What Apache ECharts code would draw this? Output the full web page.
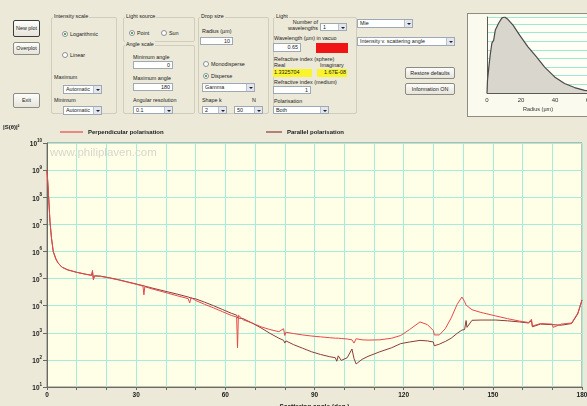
<!DOCTYPE html>
<html>
<head>
<meta charset="utf-8">
<script src="https://cdn.jsdelivr.net/npm/echarts@6/dist/echarts.min.js"></script>
<style>
  html, body { margin: 0; padding: 0; background: #ECE9D8; width: 587px; height: 406px; overflow: hidden; font-family: "Liberation Sans", Arial, sans-serif; }
  #ui, #chart { position: absolute; left: 0; top: 0; width: 587px; height: 406px; }
  .c { position: absolute; box-sizing: border-box; font-size: 5.4px; color: #222; white-space: nowrap; line-height: 7px; }
  .grp { border: 1px solid #CFCDBE; border-radius: 2px; }
  .ttl { background: #ECE9D8; padding: 0 1px; }
  .btn { background: linear-gradient(#FDFDFB, #E6E4DA); border: 1px solid #8C8C84; border-radius: 2px; text-align: center; }
  .inp { background: #fff; border: 1px solid #9DA9B5; text-align: right; padding-right: 2px; }
  .sel { background: #fff; border: 1px solid #9DA9B5; padding-left: 2px; }
  .arr { position: absolute; right: 0; top: 0; bottom: 0; width: 7px; background: #E3E6EE; border-left: 1px solid #B8C0CC; }
  .arr:after { content: ""; position: absolute; left: 1.5px; top: 45%; border-left: 2px solid transparent; border-right: 2px solid transparent; border-top: 2px solid #222; }
  .rad { width: 6px; height: 6px; border-radius: 50%; border: 1px solid #8A8F98; background: #fff; }
  .rad.on:after { content: ""; position: absolute; left: 1px; top: 1px; width: 2px; height: 2px; border-radius: 50%; background: #2A8A2A; }
  .box { background: #FBFAEE; border: 1px solid #8E8C80; }
</style>
</head>
<body>
<div id="ui"></div>
<div id="chart"></div>
<script>
// scattering angle (deg) and log10 of |S|^2 for both polarisations
const angle = [0, 0.4, 1.0, 1.5, 2.1, 3.0, 3.7, 5, 7, 10, 13, 15, 15.3, 15.6, 16, 18, 21, 24, 27, 30,
  32.3, 32.6, 32.9, 35, 38, 41, 44, 47.5, 48, 48.5, 50, 53, 56, 59, 62, 63.8, 64.1, 64.4, 66, 69,
  72, 75, 78, 79.6, 80, 80.4, 83, 86, 89, 92, 95, 97, 97.5, 98, 99, 101, 102.6, 103.3, 104, 106,
  108, 112, 116, 119, 122, 125.5, 128, 130, 130.3, 132, 134, 136, 138, 139.6, 140.5, 141, 141.3, 143, 146, 151,
  155, 159, 162, 163, 163.3, 166, 170, 170.3, 173, 176.5, 178.6, 180];
const perpExp = [9.0, 8.3, 7.1, 6.5, 6.0, 5.72, 5.58, 5.42, 5.32, 5.23, 5.16, 5.12, 5.3, 4.95, 5.1, 5.08, 5.02, 4.95, 4.87, 4.79,
  4.72, 4.4, 4.7, 4.63, 4.54, 4.45, 4.36, 4.26, 4.1, 4.3, 4.19, 4.05, 3.92, 3.78, 3.64, 3.58, 2.45, 3.65, 3.48, 3.36,
  3.22, 3.12, 3.04, 3.15, 2.9, 3.02, 2.97, 2.92, 2.88, 2.85, 2.82, 2.8, 2.78, 2.8, 2.79, 2.77, 2.74, 2.62, 2.78, 2.74,
  2.73, 2.74, 2.8, 2.9, 3.12, 3.4, 3.3, 3.08, 2.92, 2.92, 3.15, 3.55, 4.05, 4.32, 4.15, 4.02, 3.98, 3.85, 3.75, 3.62,
  3.52, 3.43, 3.38, 3.5, 3.25, 3.34, 3.32, 3.2, 3.32, 3.36, 3.73, 4.21];
const paraExp = [9.0, 8.3, 7.1, 6.5, 6.0, 5.72, 5.58, 5.42, 5.32, 5.23, 5.16, 5.12, 5.25, 5.0, 5.1, 5.09, 5.03, 4.96, 4.88, 4.8,
  4.74, 4.7, 4.72, 4.66, 4.58, 4.5, 4.42, 4.32, 4.36, 4.28, 4.25, 4.13, 4.0, 3.86, 3.72, 3.65, 3.55, 3.62, 3.52, 3.36,
  3.18, 2.98, 2.8, 2.72, 2.62, 2.7, 2.56, 2.43, 2.3, 2.2, 2.12, 2.08, 1.95, 2.15, 1.98, 2.08, 2.4, 2.05, 1.85, 2.02,
  2.13, 2.3, 2.45, 2.6, 2.66, 2.72, 2.7, 2.66, 2.52, 2.58, 2.68, 2.8, 2.98, 3.1, 3.12, 3.45, 3.2, 3.46, 3.47, 3.47,
  3.44, 3.4, 3.36, 3.45, 3.22, 3.32, 3.3, 3.25, 3.28, 3.34, 3.7, 4.21];
const xLabels = [0, 30, 60, 90, 120, 150, 180];

// drop size distribution (inset)
const radius = [0, 0.3, 1.2, 2, 2.9, 3.9, 4.9, 6.9, 8.8, 10.4, 12.4, 15.3, 19.2, 24.1, 29, 33.9, 39.8, 45.6, 51.5, 57.4, 62];
const density = [0, 1.5, 3.2, 4.6, 5.8, 6.1, 7.3, 8.1, 8.7, 8.8, 8.5, 7.85, 6.7, 5.35, 4.2, 3.0, 1.86, 1.1, 0.63, 0.31, 0.2];
const radiusLabels = [0, 20, 40, 60];

// ---- form controls ----
const ui = document.getElementById('ui');
function el(cls, x, y, w, h, text, extra) {
  const d = document.createElement('div');
  d.className = 'c ' + cls;
  d.style.left = x + 'px';
  d.style.top = y + 'px';
  if (w) d.style.width = w + 'px';
  if (h) { d.style.height = h + 'px'; d.style.lineHeight = (h - 2) + 'px'; }
  if (text) d.textContent = text;
  if (extra) Object.assign(d.style, extra);
  ui.appendChild(d);
  return d;
}
function group(x, y, w, h, title) {
  el('grp', x, y, w, h);
  el('ttl', x + 2, y - 4, 0, 0, title);
}
function select(x, y, w, h, text) {
  const s = el('sel', x, y, w, h, text);
  const a = document.createElement('span');
  a.className = 'arr';
  s.appendChild(a);
}
function radio(x, y, on, text) {
  el('rad' + (on ? ' on' : ''), x, y);
  el('', x + 8, y - 0.5, 0, 0, text);
}

el('btn', 13, 20, 27, 17, 'New plot', { border: '1px solid #3C3C38' });
el('btn', 13, 42, 27, 13, 'Overplot');
el('btn', 13, 93, 27, 15, 'Exit');

group(51, 17, 66, 97, 'Intensity scale');
radio(62, 31, true, 'Logarithmic');
radio(62, 52, false, 'Linear');
el('', 54, 74, 0, 0, 'Maximum');
select(63, 85, 39, 9, 'Automatic');
el('', 54, 97, 0, 0, 'Minimum');
select(63, 106, 39, 9, 'Automatic');

group(123, 17, 72, 25, 'Light source');
radio(129, 30, true, 'Point');
radio(161, 30, false, 'Sun');

group(123, 45, 72, 69, 'Angle scale');
el('', 133, 54, 0, 0, 'Minimum angle');
el('inp', 133, 61, 40, 8, '0');
el('', 133, 75, 0, 0, 'Maximum angle');
el('inp', 133, 83, 40, 8, '180');
el('', 133, 97, 0, 0, 'Angular resolution');
select(133, 106, 40, 8, '0.1');

group(198, 17, 71, 97, 'Drop size');
el('', 202, 28, 0, 0, 'Radius (µm)');
el('inp', 200, 37, 33, 8, '10');
radio(203, 61, false, 'Monodisperse');
radio(203, 73, true, 'Disperse');
select(202, 83, 53, 9, 'Gamma');
el('', 202, 97, 0, 0, 'Shape k');
el('', 252, 97, 0, 0, 'N');
select(202, 106, 25, 8, '2');
select(234, 106, 29, 8, '50');

group(273, 17, 84, 97, 'Light');
el('', 276, 19, 42, 0, 'Number of', { textAlign: 'right' });
el('', 276, 25, 42, 0, 'wavelengths', { textAlign: 'right' });
select(320, 23, 27, 8, '1');
el('', 274, 35, 0, 0, 'Wavelength (µm) in vacuo');
el('inp', 273, 43, 28, 9, '0.65');
el('', 316, 43, 32, 10, '', { background: '#F01414' });
el('', 274, 56, 0, 0, 'Refractive index (sphere)');
el('', 274, 62, 0, 0, 'Real');
el('', 320, 62, 0, 0, 'Imaginary');
el('', 273, 69, 39, 8, '1.3325704', { background: '#FAF52A', paddingLeft: '1px' });
el('', 317, 69, 30, 8, '1.67E-08', { background: '#FAF52A', textAlign: 'right', paddingRight: '1px' });
el('', 274, 79, 0, 0, 'Refractive index (medium)');
el('inp', 273, 86, 38, 8, '1');
el('', 274, 98, 0, 0, 'Polarisation');
select(273, 106, 56, 8, 'Both');

select(357, 19, 56, 9, 'Mie');
select(357, 37, 98, 9, 'Intensity v. scattering angle');
el('btn', 405, 67, 50, 12, 'Restore defaults');
el('btn', 405, 83, 50, 12, 'Information ON');
el('box', 467, 13, 130, 104);

// ---- charts ----
var MyChart = echarts.init(document.getElementById('chart'));
var bold = { fontFamily: 'Liberation Sans', fontWeight: 'bold', color: '#1A1A1A' };
var option = {
  animation: false,
  backgroundColor: 'transparent',
  textStyle: { fontFamily: 'Liberation Sans' },
  legend: [
    {
      data: ['Perpendicular polarisation'], left: 60, top: 129, padding: 0,
      icon: 'rect', itemWidth: 23, itemHeight: 1.2,
      textStyle: Object.assign({ fontSize: 6 }, bold)
    },
    {
      data: ['Parallel polarisation'], left: 266, top: 129, padding: 0,
      icon: 'rect', itemWidth: 16, itemHeight: 1.2,
      textStyle: Object.assign({ fontSize: 6 }, bold)
    }
  ],
  graphic: [
    { type: 'text', left: 3, top: 124, style: { text: '|S(θ)|²', fontSize: 6, fill: '#1A1A1A', fontWeight: 'bold', fontFamily: 'Liberation Sans' } },
    { type: 'text', left: 50, top: 147, z: 1, style: { text: 'www.philiplaven.com', fontSize: 11.5, fill: '#D6D6CC', fontFamily: 'Liberation Sans' } }
  ],
  grid: [
    { left: 47, top: 143, width: 535, height: 244, outerBoundsMode: 'none', containLabel: false,
      show: true, backgroundColor: '#FFFFE8', borderColor: '#85857C', borderWidth: 1 },
    { left: 487, top: 17, width: 102, height: 76, outerBoundsMode: 'none', containLabel: false,
      show: true, backgroundColor: '#FFFFF6', borderWidth: 0 }
  ],
  xAxis: [
    {
      type: 'value', min: 0, max: 180, interval: 10,
      axisLine: { lineStyle: { color: '#6A6A64' } },
      axisTick: { length: 3, interval: 0, lineStyle: { color: '#6A6A64' } },
      axisLabel: Object.assign({ fontSize: 6.5, margin: 5, hideOverlap: false, formatter: v => xLabels.includes(v) ? v : '' }, bold),
      splitLine: { interval: 0, lineStyle: { color: '#A6ECDA', width: 1 } },
      name: 'Scattering angle (deg.)', nameLocation: 'middle', nameGap: 15,
      nameTextStyle: Object.assign({ fontSize: 6.5 }, bold)
    },
    {
      gridIndex: 1, type: 'value', min: 0, max: 60, interval: 20,
      axisLine: { lineStyle: { color: '#5A5A55' } },
      axisTick: { show: false },
      axisLabel: { fontSize: 6, margin: 4, color: '#333', formatter: v => radiusLabels.includes(v) ? v : '' },
      splitLine: { show: false },
      name: 'Radius (µm)', nameLocation: 'middle', nameGap: 13,
      nameTextStyle: { fontSize: 5.5, color: '#333' }
    }
  ],
  yAxis: [
    {
      type: 'log', logBase: 10, min: 10, max: 1e10, interval: 1,
      axisLine: { show: true, lineStyle: { color: '#6A6A64' } },
      axisTick: { show: true, length: 4, lineStyle: { color: '#6A6A64' } },
      axisLabel: {
        margin: 5,
        formatter: v => '{b|10}{s|' + Math.round(Math.log10(v)) + '}',
        rich: {
          b: Object.assign({ fontSize: 6.5, lineHeight: 10, verticalAlign: 'bottom' }, bold),
          s: Object.assign({ fontSize: 4.5, lineHeight: 10, verticalAlign: 'top' }, bold)
        }
      },
      splitLine: { lineStyle: { color: '#A6ECDA', width: 1 } }
    },
    {
      gridIndex: 1, type: 'value', min: 0, max: 8.8, interval: 1,
      axisLine: { show: true, lineStyle: { color: '#5A5A55' } },
      axisTick: { show: false },
      axisLabel: { show: false },
      splitLine: { lineStyle: { color: '#9EE8D6', width: 1 } }
    }
  ],
  series: [
    {
      name: 'Perpendicular polarisation', type: 'line', showSymbol: false, z: 3,
      color: '#E8484A', lineStyle: { width: 1, color: '#E8484A' },
      data: angle.map((a, i) => [a, Math.pow(10, perpExp[i])])
    },
    {
      name: 'Parallel polarisation', type: 'line', showSymbol: false, z: 2,
      color: '#8C3C3A', lineStyle: { width: 1, color: '#8C3C3A' },
      data: angle.map((a, i) => [a, Math.pow(10, paraExp[i])])
    },
    {
      name: 'Drop size', type: 'line', xAxisIndex: 1, yAxisIndex: 1, showSymbol: false,
      lineStyle: { width: 1.2, color: '#4A4A48' },
      areaStyle: { color: '#D9D6CD', opacity: 1 },
      data: radius.map((r, i) => [r, density[i]])
    }
  ]
};
MyChart.setOption(option);
</script>
</body>
</html>
